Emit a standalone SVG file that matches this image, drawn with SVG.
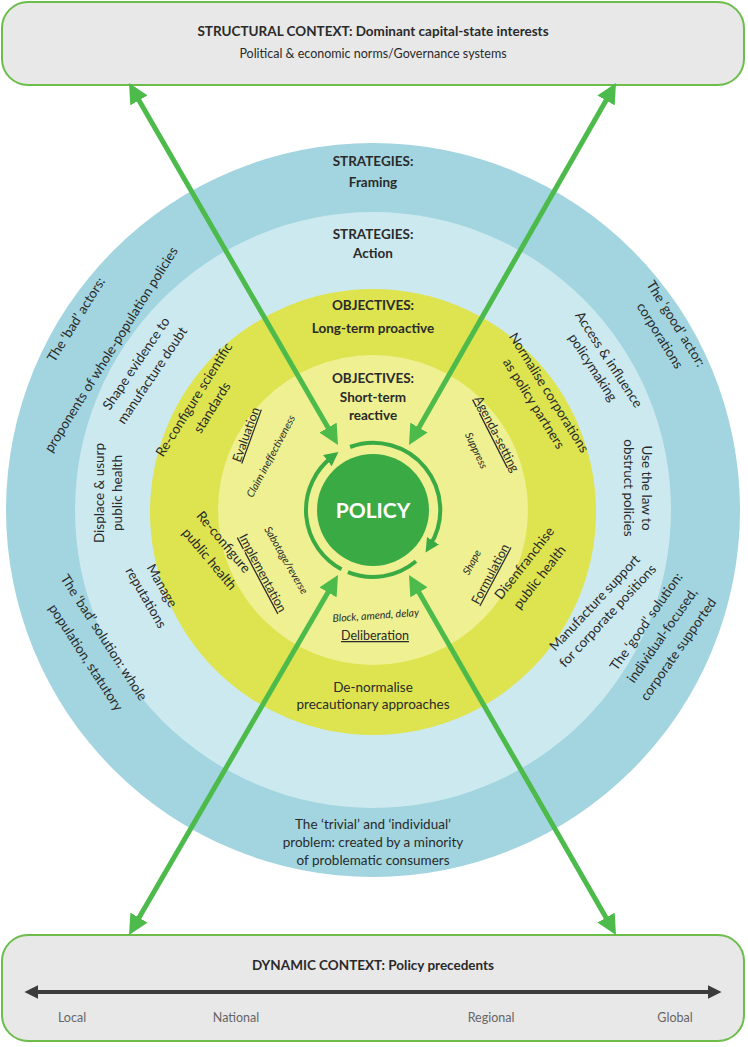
<svg xmlns="http://www.w3.org/2000/svg" width="748" height="1047" viewBox="0 0 748 1047">
<style>
text{font-family:Lato,"Open Sans","Liberation Sans",sans-serif;fill:#2a2a2a;text-anchor:middle}
.h{font-weight:bold;font-size:13.5px}
.t{font-size:12.5px}
.s{font-size:13.5px}
.i{font-size:10.5px;font-style:italic}
.u{font-size:12.5px;text-decoration:underline}
.box{fill:#e8e8e9;stroke:#6cbd4a;stroke-width:2}
.arr{stroke:#4dbb4b;stroke-width:5;fill:none}
.pa{fill:none;stroke:#3aaa45;stroke-width:4}
</style>
<defs>
<marker id="ah" viewBox="0 0 10 10" refX="6" refY="5" markerWidth="4" markerHeight="4" orient="auto-start-reverse"><path d="M0,0L10,5L0,10z" fill="#4dbb4b"/></marker>
<marker id="ah2" viewBox="0 0 10 10" refX="4" refY="5" markerWidth="3.5" markerHeight="3.5" orient="auto"><path d="M0,0L10,5L0,10z" fill="#3aaa45"/></marker>
<marker id="ag" viewBox="0 0 10 10" refX="6" refY="5" markerWidth="3.5" markerHeight="3.5" orient="auto-start-reverse"><path d="M0,0L10,5L0,10z" fill="#3c3c3c"/></marker>
</defs>
<rect width="748" height="1047" fill="#fff"/>
<g id="top-box"><rect class="box" x="2" y="2" width="742" height="83" rx="26"/>
<text class="h" x="373" y="36">STRUCTURAL CONTEXT: Dominant capital-state interests</text>
<text class="t" x="373" y="58">Political &amp; economic norms/Governance systems</text></g>
<g id="bottom-box"><rect class="box" x="2" y="935" width="742" height="106" rx="26"/>
<text class="h" x="373" y="970">DYNAMIC CONTEXT: Policy precedents</text>
<line x1="30" y1="992" x2="716" y2="992" stroke="#3c3c3c" stroke-width="4" marker-start="url(#ag)" marker-end="url(#ag)"/>
<text class="t" x="72" y="1022" style="fill:#666">Local</text><text class="t" x="236" y="1022" style="fill:#666">National</text><text class="t" x="491" y="1022" style="fill:#666">Regional</text><text class="t" x="675" y="1022" style="fill:#666">Global</text></g>
<g id="rings">
<circle cx="373" cy="510" r="367" fill="#a2d5df"/>
<circle cx="373" cy="510" r="298" fill="#cce9f0"/>
<circle cx="373" cy="512" r="223" fill="#dde44f"/>
<circle cx="373" cy="510" r="155" fill="#eef091"/>
</g>
<g id="ring-labels">
<text class="h" x="373" y="166">STRATEGIES:</text><text class="h" x="373" y="187">Framing</text>
<text class="h" x="373" y="239">STRATEGIES:</text><text class="h" x="373" y="258">Action</text>
<text class="h" x="373" y="310">OBJECTIVES:</text><text class="h" x="373" y="333">Long-term proactive</text>
<text class="h" x="373" y="383">OBJECTIVES:</text><text class="h" x="373" y="402">Short-term</text><text class="h" x="373" y="420">reactive</text>
</g>
<g id="outer-left">
<text class="s" transform="translate(80,322) rotate(-58)">The ‘bad’ actors:</text>
<text class="s" transform="translate(115,352) rotate(-58)">proponents of whole-population policies</text>
<text class="s" transform="translate(100,640) rotate(57)">The ‘bad’ solution: whole</text>
<text class="s" transform="translate(82,660) rotate(57)">population, statutory</text>
</g>
<g id="outer-right">
<text class="s" transform="translate(672,326) rotate(58)">The ‘good’ actor:</text>
<text class="s" transform="translate(656,338) rotate(58)">corporations</text>
<text class="s" transform="translate(650,624) rotate(-55)">The ‘good’ solution:</text>
<text class="s" transform="translate(666,638) rotate(-55)">individual-focused,</text>
<text class="s" transform="translate(682,652) rotate(-55)">corporate supported</text>
</g>
<g id="outer-bottom">
<text class="s" x="373" y="829">The ‘trivial’ and ‘individual’</text>
<text class="s" x="373" y="847">problem: created by a minority</text>
<text class="s" x="373" y="865">of problematic consumers</text>
</g>
<g id="action-strategies">
<text class="s" transform="translate(140,366) rotate(-56)">Shape evidence to</text>
<text class="s" transform="translate(156,378) rotate(-56)">manufacture doubt</text>
<text class="s" transform="translate(104,493) rotate(-90)">Displace &amp; usurp</text>
<text class="s" transform="translate(122,493) rotate(-90)">public health</text>
<text class="s" transform="translate(158,588) rotate(60)">Manage</text>
<text class="s" transform="translate(142,600) rotate(60)">reputations</text>
<text class="s" transform="translate(605,362) rotate(57)">Access &amp; influence</text>
<text class="s" transform="translate(589,370) rotate(57)">policymaking</text>
<text class="s" transform="translate(642,488) rotate(90)">Use the law to</text>
<text class="s" transform="translate(624,488) rotate(90)">obstruct policies</text>
<text class="s" transform="translate(598,606) rotate(-47)">Manufacture support</text>
<text class="s" transform="translate(611,619) rotate(-47)">for corporate positions</text>
</g>
<g id="long-term-objectives">
<text class="s" transform="translate(198,402) rotate(-58)">Re-configure scientific</text>
<text class="s" transform="translate(216,410) rotate(-58)">standards</text>
<text class="s" transform="translate(220,545) rotate(50)">Re-configure</text>
<text class="s" transform="translate(206,562) rotate(50)">public health</text>
<text class="s" transform="translate(545,395) rotate(58)">Normalise corporations</text>
<text class="s" transform="translate(530,406) rotate(58)">as policy partners</text>
<text class="s" transform="translate(528,566) rotate(-52)">Disenfranchise</text>
<text class="s" transform="translate(543,580) rotate(-52)">public health</text>
<text class="s" x="373" y="692">De-normalise</text>
<text class="s" x="373" y="709">precautionary approaches</text>
</g>
<g id="short-term-objectives">
<text class="u" transform="translate(250,436) rotate(-70)">Evaluation</text>
<text class="i" transform="translate(274,458) rotate(-62)">Claim ineffectiveness</text>
<text class="u" transform="translate(493,436) rotate(63)">Agenda-setting</text>
<text class="i" transform="translate(473,452) rotate(65)">Suppress</text>
<text class="u" transform="translate(259,575) rotate(62)">Implementation</text>
<text class="i" transform="translate(283,562) rotate(60)">Sabotage/reverse</text>
<text class="i" transform="translate(475,564) rotate(-62)">Shape</text>
<text class="u" transform="translate(494,576) rotate(-62)">Formulation</text>
<text class="i" transform="translate(376,619) rotate(-4)">Block, amend, delay</text>
<text class="u" x="375" y="640">Deliberation</text>
</g>
<g id="policy">
<circle cx="373" cy="510" r="56" fill="#3aaa45"/>
<text x="373" y="518" style="fill:#fff;font-weight:bold;font-size:21px">POLICY</text>
<path class="pa" d="M341.5,569.2 A67,67 0 0 1 331.8,457.2" marker-end="url(#ah2)"/>
<path class="pa" d="M350.1,447 A67,67 0 0 1 430,545.5" marker-end="url(#ah2)"/>
<path class="pa" d="M416,561.3 A67,67 0 0 1 347.9,572.1"/>
</g>
<g id="connectors">
<line class="arr" x1="133" y1="90" x2="334" y2="438" marker-start="url(#ah)" marker-end="url(#ah)"/>
<line class="arr" x1="612" y1="90" x2="413" y2="438" marker-start="url(#ah)" marker-end="url(#ah)"/>
<line class="arr" x1="133" y1="928" x2="334" y2="582" marker-start="url(#ah)" marker-end="url(#ah)"/>
<line class="arr" x1="612" y1="928" x2="413" y2="582" marker-start="url(#ah)" marker-end="url(#ah)"/>
</g>
</svg>
